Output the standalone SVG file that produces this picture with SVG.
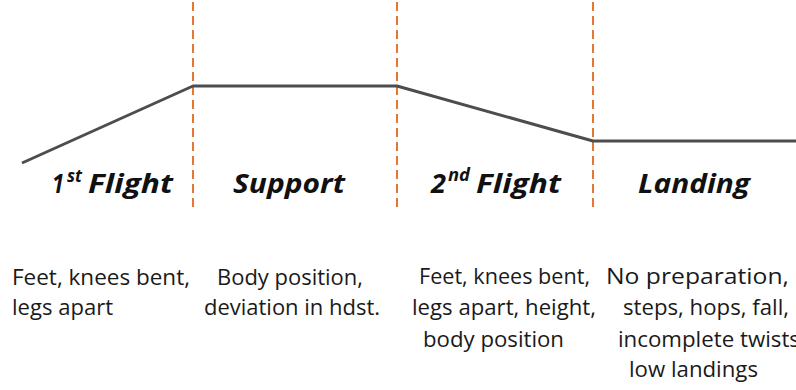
<svg xmlns="http://www.w3.org/2000/svg" width="796" height="390" viewBox="0 0 796 390">
<style>
.div{stroke:#E2782E;stroke-width:2;stroke-dasharray:9 5;fill:none}
.prof{stroke:#4d4d4d;stroke-width:3;fill:none;stroke-linejoin:round}
.ttl{font-family:"Open Sans","Liberation Sans",sans-serif;font-weight:bold;font-style:italic;font-size:27px;fill:#111}
.sup{font-size:17px}
.desc{font-family:"Open Sans","Liberation Sans",sans-serif;font-size:21px;fill:#1a1a1a}
</style>
<rect width="796" height="390" fill="#ffffff"/>
<g id="connectors">
<line class="div" x1="193" y1="2" x2="193" y2="212"/>
<line class="div" x1="397" y1="2" x2="397" y2="212"/>
<line class="div" x1="593" y1="2" x2="593" y2="212"/>
<polyline class="prof" points="22,163 193,86 397,86 593,141 796,141"/>
</g>
<g id="phase-1st-flight">
<text class="ttl" y="193"><tspan x="52" textLength="12" lengthAdjust="spacingAndGlyphs">1</tspan><tspan class="sup" x="67" y="182" textLength="15" lengthAdjust="spacingAndGlyphs">st</tspan><tspan x="88" y="193" textLength="85" lengthAdjust="spacingAndGlyphs">Flight</tspan></text>
<text class="desc"><tspan x="12" y="285" textLength="178" lengthAdjust="spacingAndGlyphs">Feet, knees bent,</tspan><tspan x="12" y="315" textLength="101" lengthAdjust="spacingAndGlyphs">legs apart</tspan></text>
</g>
<g id="phase-support">
<text class="ttl" x="233" y="193" textLength="112" lengthAdjust="spacingAndGlyphs">Support</text>
<text class="desc"><tspan x="217" y="285" textLength="146" lengthAdjust="spacingAndGlyphs">Body position,</tspan><tspan x="204" y="315" textLength="176" lengthAdjust="spacingAndGlyphs">deviation in hdst.</tspan></text>
</g>
<g id="phase-2nd-flight">
<text class="ttl" y="193"><tspan x="431" textLength="15" lengthAdjust="spacingAndGlyphs">2</tspan><tspan class="sup" x="448" y="181" textLength="22" lengthAdjust="spacingAndGlyphs">nd</tspan><tspan x="476" y="193" textLength="85" lengthAdjust="spacingAndGlyphs">Flight</tspan></text>
<text class="desc"><tspan x="419" y="284" textLength="171" lengthAdjust="spacingAndGlyphs">Feet, knees bent,</tspan><tspan x="412" y="315" textLength="184" lengthAdjust="spacingAndGlyphs">legs apart, height,</tspan><tspan x="423" y="347" textLength="141" lengthAdjust="spacingAndGlyphs">body position</tspan></text>
</g>
<g id="phase-landing">
<text class="ttl" x="638" y="193" textLength="112" lengthAdjust="spacingAndGlyphs">Landing</text>
<text class="desc"><tspan x="606" y="284" textLength="183" lengthAdjust="spacingAndGlyphs">No preparation,</tspan><tspan x="623" y="315" textLength="166" lengthAdjust="spacingAndGlyphs">steps, hops, fall,</tspan><tspan x="618" y="347" textLength="182" lengthAdjust="spacingAndGlyphs">incomplete twists</tspan><tspan x="629" y="377" textLength="129" lengthAdjust="spacingAndGlyphs">low landings</tspan></text>
</g>
</svg>
